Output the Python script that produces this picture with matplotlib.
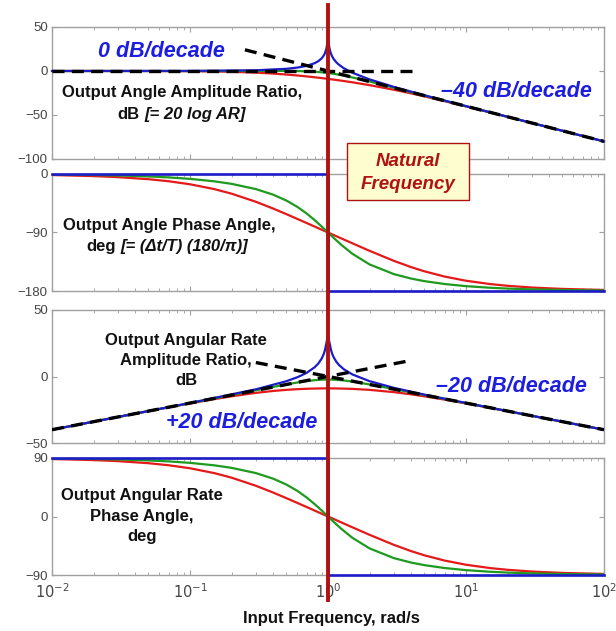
import matplotlib
matplotlib.use("Agg")
import matplotlib.pyplot as plt
from matplotlib.patches import Rectangle
from matplotlib.lines import Line2D
from matplotlib.transforms import blended_transform_factory

plt.rcParams['font.family'] = ['Liberation Sans', 'DejaVu Sans']

# ---------------- data ----------------
# frequency grid for the damped curves (rad/s)
w_grid = [0.01, 0.02, 0.03, 0.05, 0.07, 0.1, 0.15, 0.2, 0.3, 0.4, 0.5, 0.6, 0.7,
          0.8, 0.9, 1.0, 1.1, 1.25, 1.5, 2, 3, 4, 5, 7, 10, 15, 20, 30, 50, 100]

# output angle amplitude ratio, dB
green_amp = [0.0, 0.0, 0.0, 0.0, 0.01, 0.01, 0.03, 0.05, 0.09, 0.11, 0.07, -0.08, -0.37,
             -0.83, -1.48, -2.28, -3.20, -4.71, -7.30, -11.98, -18.99, -24.02, -27.91,
             -33.78, -39.99, -47.04, -52.04, -59.08, -67.96, -80.0]
red_amp = [0.0, -0.01, -0.02, -0.06, -0.12, -0.25, -0.54, -0.92, -1.86, -2.92, -4.02,
           -5.10, -6.13, -7.12, -8.05, -8.94, -9.79, -10.99, -12.83, -16.06, -21.29,
           -25.45, -28.88, -34.30, -40.25, -47.16, -52.10, -59.11, -67.97, -80.0]

# output angle phase, deg
green_phase = [-0.74, -1.49, -2.24, -3.73, -5.23, -7.48, -11.28, -15.15, -23.20, -31.76,
               -40.91, -50.63, -60.73, -70.91, -80.78, -90.0, -98.35, -109.09, -122.66,
               -139.09, -154.01, -160.88, -164.85, -169.27, -172.52, -175.02, -176.27,
               -177.52, -178.51, -179.26]
red_phase = [-1.60, -3.21, -4.81, -7.99, -11.14, -15.79, -23.25, -30.26, -42.71, -53.13,
             -61.82, -69.15, -75.41, -80.87, -85.69, -90.0, -93.90, -99.13, -106.57,
             -118.18, -133.60, -143.25, -149.74, -157.79, -164.21, -169.38, -172.01,
             -174.66, -176.79, -178.40]

# output angular rate amplitude ratio, dB
green_rate_amp = [-40.0, -33.98, -30.46, -26.02, -23.09, -19.99, -16.45, -13.93, -10.37,
                  -7.85, -5.95, -4.51, -3.46, -2.77, -2.39, -2.28, -2.37, -2.77, -3.77,
                  -5.96, -9.45, -11.97, -13.93, -16.88, -19.99, -23.52, -26.02, -29.54,
                  -33.98, -40.0]
red_rate_amp = [-40.0, -33.99, -30.48, -26.08, -23.22, -20.25, -17.02, -14.90, -12.31,
                -10.88, -10.04, -9.53, -9.23, -9.05, -8.97, -8.94, -8.96, -9.05, -9.31,
                -10.04, -11.75, -13.41, -14.90, -17.39, -20.25, -23.63, -26.08, -29.57,
                -33.99, -40.0]

# output angular rate phase, deg
green_rate_phase = [89.26, 88.51, 87.76, 86.27, 84.77, 82.52, 78.72, 74.85, 66.80, 58.24,
                    49.09, 39.37, 29.27, 19.09, 9.22, 0.0, -8.35, -19.09, -32.66, -49.09,
                    -64.01, -70.88, -74.85, -79.27, -82.52, -85.02, -86.27, -87.52,
                    -88.51, -89.26]
red_rate_phase = [88.40, 86.79, 85.19, 82.01, 78.86, 74.21, 66.75, 59.74, 47.29, 36.87,
                  28.18, 20.85, 14.59, 9.13, 4.31, 0.0, -3.90, -9.13, -16.57, -28.18,
                  -43.60, -53.25, -59.74, -67.79, -74.21, -79.38, -82.01, -84.66, -86.79,
                  -88.40]

# lightly damped case, denser grid around the resonance
w_blue = [0.01, 0.1, 0.3, 0.5, 0.6, 0.7, 0.8, 0.85, 0.9, 0.93, 0.95, 0.97, 0.98, 0.99,
          0.995, 1.0, 1.005, 1.01, 1.02, 1.03, 1.05, 1.07, 1.1, 1.15, 1.2, 1.3, 1.5, 2,
          3, 5, 10, 30, 100]
blue_amp = [0.0, 0.09, 0.82, 2.50, 3.88, 5.85, 8.87, 11.13, 14.42, 17.39, 20.22, 24.47,
            27.84, 32.5, 35.5, 38.0, 35.5, 32.5, 27.65, 24.21, 19.79, 16.78, 13.56, 9.83,
            7.13, 3.22, -1.94, -9.54, -18.06, -27.60, -39.91, -59.08, -80.0]
blue_rate_amp = [-40.0, -19.91, -9.64, -3.52, -0.56, 2.75, 6.94, 9.72, 13.50, 16.76,
                 19.77, 24.21, 26.5, 29.5, 31.0, 32.0, 31.0, 29.5, 26.5, 24.47, 20.21,
                 17.37, 14.39, 11.04, 8.71, 5.50, 1.58, -3.52, -8.52, -13.62, -19.91,
                 -29.54, -40.0]
w_blue_step = [0.01, 1.0, 1.0, 100]
blue_phase = [0, 0, -180, -180]
blue_rate_phase = [90, 90, -90, -90]

# straight-line asymptotes
asym1_flat_w, asym1_flat_db = [0.01, 4.6], [0, 0]
asym1_slope_w, asym1_slope_db = [0.25, 100], [24.1, -80]
asym3_rise_w, asym3_rise_db = [0.01, 4.1], [-40, 12.3]
asym3_fall_w, asym3_fall_db = [0.3, 100], [10.5, -40]

natural_freq = 1.0

# ---------------- styling ----------------
W, H = 616, 631
BLUE = '#1c1cc8'
GREEN = '#1e9a1e'
RED = '#e41a1a'
DARKRED = '#b01212'
TXTBLUE = '#1d1de0'
FRAME = '#a0a0a0'
TICKTXT = '#454545'

fig = plt.figure(figsize=(W / 100, H / 100), dpi=100)
fig.patch.set_facecolor('white')


def fx(x):
    return x / W


def fy(y):
    return 1 - y / H


def add_axes(top, bottom):
    left, right = 52, 604
    return fig.add_axes([fx(left), fy(bottom), (right - left) / W, (bottom - top) / H])


ax1 = add_axes(27, 159)
ax2 = add_axes(174, 291)
ax3 = add_axes(310, 443)
ax4 = add_axes(458, 575)
axes = [ax1, ax2, ax3, ax4]

for ax in axes:
    ax.set_xscale('log')
    ax.set_xlim(0.01, 100)
    for s in ax.spines.values():
        s.set_color(FRAME)
        s.set_linewidth(1.0)
    ax.tick_params(which='both', direction='in', top=True, right=True, color=FRAME,
                   labelcolor=TICKTXT, labelsize=9.5)
    ax.tick_params(which='major', length=3.5)
    ax.tick_params(which='minor', length=2)
    ax.set_xticks([0.01, 0.1, 1, 10, 100])
    if ax is not ax4:
        ax.set_xticklabels([])
    ax.tick_params(axis='y', pad=3)

ax1.set_ylim(-100, 50)
ax1.set_yticks([-100, -50, 0, 50])
ax1.set_yticklabels(['\u2212100', '\u221250', '0', '50'])
ax2.set_ylim(-180, 0)
ax2.set_yticks([-180, -90, 0])
ax2.set_yticklabels(['\u2212180', '\u221290', '0'])
ax3.set_ylim(-50, 50)
ax3.set_yticks([-50, 0, 50])
ax3.set_yticklabels(['\u221250', '0', '50'])
ax4.set_ylim(-90, 90)
ax4.set_yticks([-90, 0, 90])
ax4.set_yticklabels(['\u221290', '0', '90'])
ax4.set_xticklabels([r'$10^{-2}$', r'$10^{-1}$', r'$10^{0}$', r'$10^{1}$', r'$10^{2}$'])
ax4.tick_params(axis='x', labelsize=10.5, pad=5)

lw = 1.6
dash = dict(color='black', lw=2.4, ls=(0, (3.6, 2.2)), zorder=5)

# panel 1: output angle amplitude ratio
ax1.plot(w_grid, red_amp, color=RED, lw=lw, zorder=3)
ax1.plot(w_grid, green_amp, color=GREEN, lw=lw, zorder=3)
ax1.plot(w_blue, blue_amp, color=BLUE, lw=lw, zorder=4, clip_on=False)
ax1.plot(asym1_flat_w, asym1_flat_db, **dash)
ax1.plot(asym1_slope_w, asym1_slope_db, **dash)

# panel 2: output angle phase
ax2.plot(w_grid, red_phase, color=RED, lw=lw, zorder=3)
ax2.plot(w_grid, green_phase, color=GREEN, lw=lw, zorder=3)
ax2.plot(w_blue_step, blue_phase, color=BLUE, lw=lw + 0.3, zorder=4, clip_on=False)

# panel 3: output angular rate amplitude ratio
ax3.plot(w_grid, red_rate_amp, color=RED, lw=lw, zorder=3)
ax3.plot(w_grid, green_rate_amp, color=GREEN, lw=lw, zorder=3)
ax3.plot(w_blue, blue_rate_amp, color=BLUE, lw=lw, zorder=4)
ax3.plot(asym3_rise_w, asym3_rise_db, **dash)
ax3.plot(asym3_fall_w, asym3_fall_db, **dash)

# panel 4: output angular rate phase
ax4.plot(w_grid, red_rate_phase, color=RED, lw=lw, zorder=3)
ax4.plot(w_grid, green_rate_phase, color=GREEN, lw=lw, zorder=3)
ax4.plot(w_blue_step, blue_rate_phase, color=BLUE, lw=lw + 0.3, zorder=4, clip_on=False)

# natural-frequency marker running through all panels
trans = blended_transform_factory(ax1.transData, fig.transFigure)
fig.add_artist(Line2D([natural_freq, natural_freq], [fy(5), fy(600)], transform=trans,
                      color=DARKRED, lw=2.8, zorder=20))

# labelled box
fig.add_artist(Rectangle((fx(347), fy(200)), (469 - 347) / W, (200 - 143) / H,
                         transform=fig.transFigure, facecolor='#fdfdcf',
                         edgecolor=DARKRED, lw=1.0, zorder=21))
box_kw = dict(ha='center', va='baseline', color=DARKRED, fontsize=13.5,
              fontweight='bold', fontstyle='italic', zorder=22)
fig.text(fx(408), fy(166), 'Natural', **box_kw)
fig.text(fx(408), fy(189), 'Frequency', **box_kw)

# slope annotations
slope_kw = dict(color=TXTBLUE, fontsize=15.5, fontweight='bold', fontstyle='italic',
                ha='center', va='baseline', zorder=22)
fig.text(fx(161), fy(57), '0 dB/decade', **slope_kw)
fig.text(fx(516), fy(97), '\u201340 dB/decade', **slope_kw)
fig.text(fx(242), fy(428), '+20 dB/decade', **slope_kw)
fig.text(fx(511), fy(392), '\u201320 dB/decade', **slope_kw)

# panel captions (positions are text baselines)
cap_kw = dict(color='#111111', fontsize=12, fontweight='bold', va='baseline', zorder=22)
fig.text(fx(182), fy(97), 'Output Angle Amplitude Ratio,', ha='center', **cap_kw)
fig.text(fx(139), fy(119), 'dB', ha='right', **cap_kw)
fig.text(fx(144), fy(119), '[= 20 log AR]', ha='left', fontstyle='italic', **cap_kw)

fig.text(fx(169), fy(230), 'Output Angle Phase Angle,', ha='center', **cap_kw)
fig.text(fx(116), fy(251), 'deg', ha='right', **cap_kw)
fig.text(fx(120), fy(251), '[= (\u0394t/T) (180/\u03c0)]', ha='left', fontstyle='italic',
         **cap_kw)

for txt, y in [('Output Angular Rate', 345), ('Amplitude Ratio,', 365), ('dB', 385)]:
    fig.text(fx(186), fy(y), txt, ha='center', **cap_kw)
for txt, y in [('Output Angular Rate', 500), ('Phase Angle,', 521), ('deg', 541)]:
    fig.text(fx(142), fy(y), txt, ha='center', **cap_kw)

fig.text(fx(331), fy(623), 'Input Frequency, rad/s', ha='center', va='baseline',
         fontsize=12, fontweight='bold', color='#111111')

fig.savefig('out.png', dpi=100, facecolor='white')
